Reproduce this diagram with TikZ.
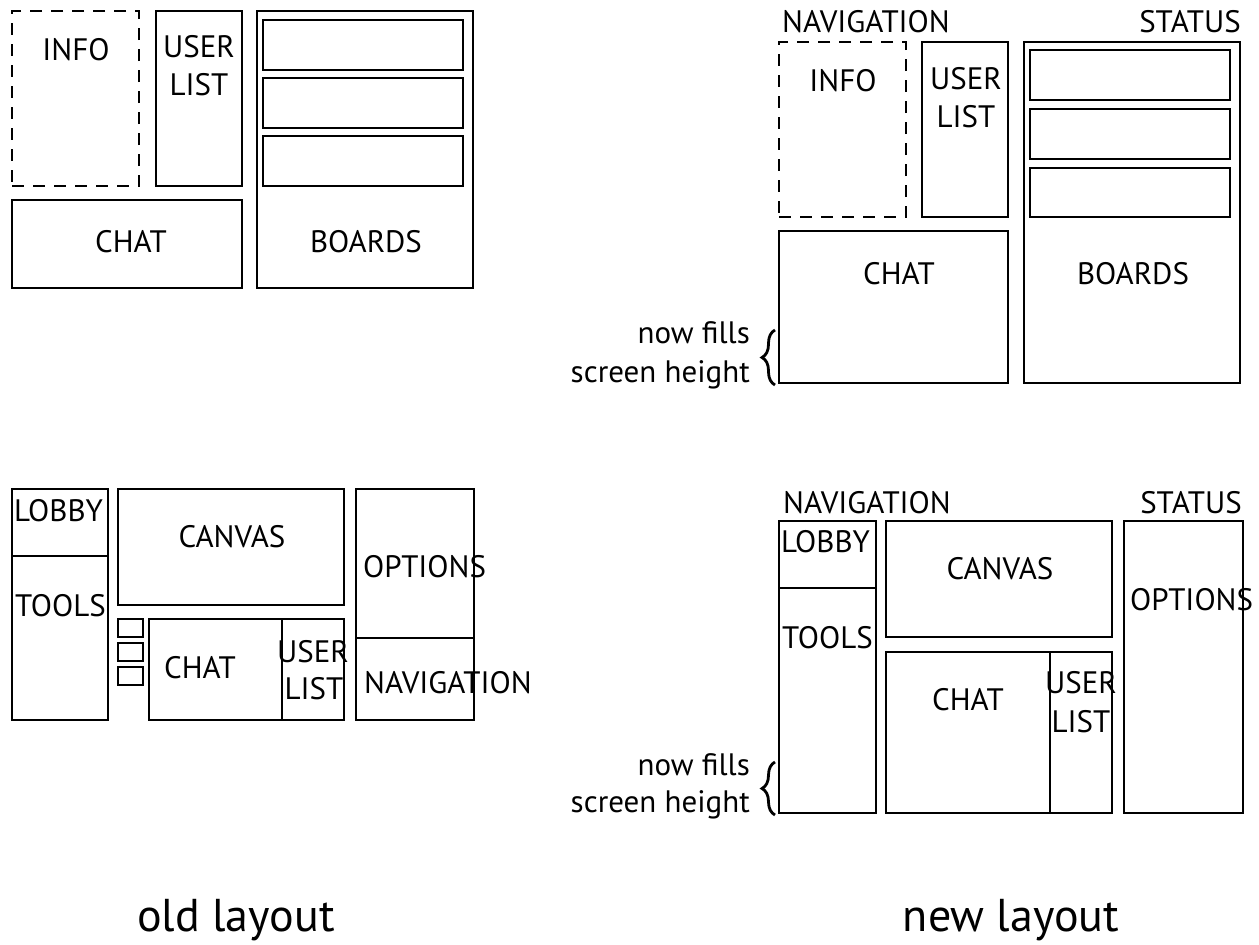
\documentclass[tikz,border=0pt]{standalone}
\usepackage{fontspec}
\setmainfont{PT Sans}
\usetikzlibrary{fit,decorations.pathreplacing}
\begin{document}
\begin{tikzpicture}[x=1pt,y=-1pt,
  box/.style={draw, line width=2.4pt, inner sep=0pt, outer sep=0pt},
  dbox/.style={box, dash pattern=on 12pt off 9pt},
  lbl/.style={inner sep=0pt, font=\fontsize{31}{36}\selectfont},
  captiontext/.style={inner sep=0pt, font=\fontsize{46}{52}\selectfont},
  bracestyle/.style={line width=2.8pt, decorate, decoration={brace, amplitude=13pt}}]
\useasboundingbox (0,0) rectangle (1259,945);
% ---------- old layout, top ----------
\node[dbox, fit={(12,11) (139,186)}] (info1) {};
\node[box, fit={(156,11) (242,186)}] (user1) {};
\node[box, fit={(257,11) (473,288)}] (boards1) {};
\node[box, fit={(263,20) (463,70)}] (b1a) {};
\node[box, fit={(263,78) (463,128)}] (b1b) {};
\node[box, fit={(263,136) (463,186)}] (b1c) {};
\node[box, fit={(12,200) (242,288)}] (chat1) {};
\node[lbl, anchor=base] (info1t) at (76,60) {INFO};
\node[lbl, anchor=base] (user1t) at (199,57) {USER};
\node[lbl, anchor=base] (list1t) at (199,95) {LIST};
\node[lbl, anchor=base] (chat1t) at (131,252) {CHAT};
\node[lbl, anchor=base] (boards1t) at (366,252) {BOARDS};
% ---------- new layout, top ----------
\node[dbox, fit={(779,42) (906,217)}] (info2) {};
\node[box, fit={(922,42) (1008,217)}] (user2) {};
\node[box, fit={(1024,42) (1240,383)}] (boards2) {};
\node[box, fit={(1030,50) (1230,100)}] (b2a) {};
\node[box, fit={(1030,109) (1230,159)}] (b2b) {};
\node[box, fit={(1030,168) (1230,217)}] (b2c) {};
\node[box, fit={(779,231) (1008,383)}] (chat2) {};
\node[lbl, anchor=base west] (nav2t) at (782,32) {NAVIGATION};
\node[lbl, anchor=base east] (status2t) at (1241,32) {STATUS};
\node[lbl, anchor=base] (info2t) at (843,91) {INFO};
\node[lbl, anchor=base] (user2t) at (966,89) {USER};
\node[lbl, anchor=base] (list2t) at (966,127) {LIST};
\node[lbl, anchor=base] (chat2t) at (899,284) {CHAT};
\node[lbl, anchor=base] (boards2t) at (1133,284) {BOARDS};
\node[lbl, anchor=base east] (fills1a) at (750,343) {now fills};
\node[lbl, anchor=base east] (fills1b) at (750,382) {screen height};
\coordinate (br1a) at (775,385);
\coordinate (br1b) at (775,330);
\draw[bracestyle] (br1a) -- (br1b);
% ---------- old layout, bottom ----------
\node[box, fit={(12,489) (108,556)}] (lobby1) {};
\node[box, fit={(12,556) (108,720)}] (tools1) {};
\node[box, fit={(118,489) (344,605)}] (canvas1) {};
\node[box, fit={(118,619) (143,637)}] (sq1) {};
\node[box, fit={(118,643) (143,661)}] (sq2) {};
\node[box, fit={(118,667) (143,685)}] (sq3) {};
\node[box, fit={(149,619) (282,720)}] (chat3) {};
\node[box, fit={(282,619) (344,720)}] (user3) {};
\node[box, fit={(356,489) (474,638)}] (options1) {};
\node[box, fit={(356,638) (474,720)}] (nav3) {};
\node[lbl, anchor=base west] (lobby1t) at (14,521) {LOBBY};
\node[lbl, anchor=base west] (tools1t) at (15,616) {TOOLS};
\node[lbl, anchor=base] (canvas1t) at (232,547) {CANVAS};
\node[lbl, anchor=base west] (options1t) at (363,577) {OPTIONS};
\node[lbl, anchor=base] (chat3t) at (200,678) {CHAT};
\node[lbl, anchor=base] (user3t) at (313,662) {USER};
\node[lbl, anchor=base] (list3t) at (314,699) {LIST};
\node[lbl, anchor=base west] (nav3t) at (364,693) {NAVIGATION};
% ---------- new layout, bottom ----------
\node[box, fit={(779,521) (876,588)}] (lobby2) {};
\node[box, fit={(779,588) (876,813)}] (tools2) {};
\node[box, fit={(886,521) (1112,637)}] (canvas2) {};
\node[box, fit={(886,652) (1050,813)}] (chat4) {};
\node[box, fit={(1050,652) (1112,813)}] (user4) {};
\node[box, fit={(1124,521) (1243,813)}] (options2) {};
\node[lbl, anchor=base west] (nav4t) at (783,513) {NAVIGATION};
\node[lbl, anchor=base east] (status4t) at (1242,513) {STATUS};
\node[lbl, anchor=base west] (lobby2t) at (781,552) {LOBBY};
\node[lbl, anchor=base west] (tools2t) at (782,648) {TOOLS};
\node[lbl, anchor=base] (canvas2t) at (1000,579) {CANVAS};
\node[lbl, anchor=base west] (options2t) at (1130,610) {OPTIONS};
\node[lbl, anchor=base] (chat4t) at (968,710) {CHAT};
\node[lbl, anchor=base] (user4t) at (1081,693) {USER};
\node[lbl, anchor=base] (list4t) at (1081,732) {LIST};
\node[lbl, anchor=base east] (fills2a) at (750,775) {now fills};
\node[lbl, anchor=base east] (fills2b) at (750,812) {screen height};
\coordinate (br2a) at (775,815);
\coordinate (br2b) at (775,762);
\draw[bracestyle] (br2a) -- (br2b);
% ---------- captions ----------
\node[captiontext, anchor=base] (oldcap) at (236,931) {old layout};
\node[captiontext, anchor=base] (newcap) at (1011,931) {new layout};
\end{tikzpicture}
\end{document}
